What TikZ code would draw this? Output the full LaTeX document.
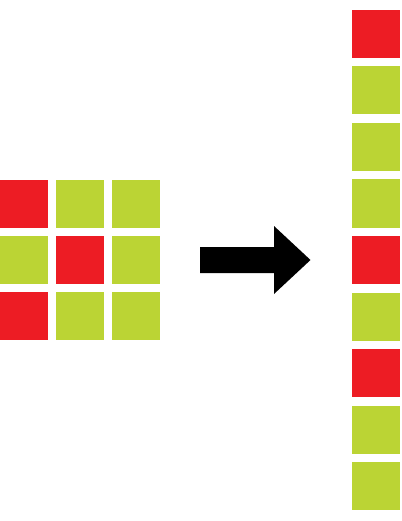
\documentclass[tikz,border=0pt]{standalone}
\usepackage{xcolor}
\definecolor{cellred}{RGB}{237,28,36}
\definecolor{cellgreen}{RGB}{187,212,52}
\tikzset{
  cell/.style={rectangle, minimum size=48pt, inner sep=0pt, outer sep=0pt}
}

\begin{document}
\begin{tikzpicture}[x=1pt,y=-1pt]
  \def\S{56};
  \def\Xc{376};
  \def\Yc{260};
  \useasboundingbox (0,0) rectangle (401,521);

        % the 3x3 grid
        \foreach \r/\c/\col in {1/1/cellred, 1/2/cellgreen, 1/3/cellgreen,
                                2/1/cellgreen, 2/2/cellred, 2/3/cellgreen,
                                3/1/cellred, 3/2/cellgreen, 3/3/cellgreen}
          \node[cell, fill=\col] (g\r\c) at ({24 + (\c-1)*\S}, {204 + (\r-1)*\S}) {};

        % the flattened column
        \foreach \i/\col in {1/cellred, 2/cellgreen, 3/cellgreen,
                             4/cellgreen, 5/cellred, 6/cellgreen,
                             7/cellred, 8/cellgreen, 9/cellgreen}
          \node[cell, fill=\col] (v\i) at (\Xc, {34 + (\i-1)*56.5}) {};

        % block arrow
        \fill (200, \Yc - 13) -- (274, \Yc - 13) -- (274, \Yc - 34)
           -- (310.5, \Yc) -- (274, \Yc + 34) -- (274, \Yc + 13)
           -- (200, \Yc + 13) -- cycle;
\end{tikzpicture}
\end{document}
